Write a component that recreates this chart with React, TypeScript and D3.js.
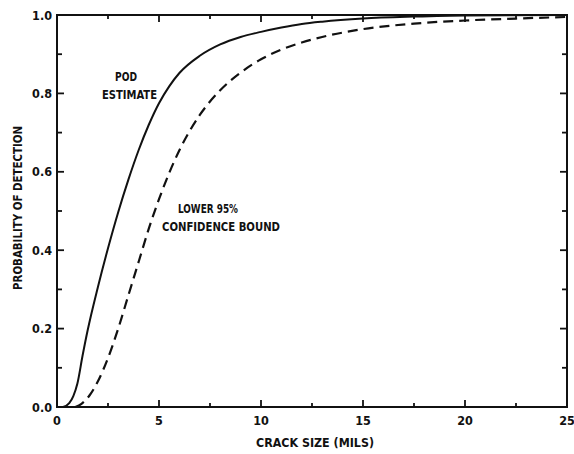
import React, { useEffect, useRef } from 'react';
import * as d3 from 'd3';

// POD estimate (solid curve): crack size in mils vs probability
const podSize = [0.3, 0.6, 0.8, 1.0, 1.25, 1.5, 2.0, 2.5, 3.0, 3.5, 4.0, 4.5, 5.0, 5.5, 6.0, 7.0, 8.0, 9.0, 10, 11, 12, 13, 15, 17.5, 20, 25];
const podProb = [0, 0.01, 0.028, 0.06, 0.13, 0.195, 0.305, 0.405, 0.497, 0.58, 0.655, 0.72, 0.775, 0.818, 0.852, 0.896, 0.925, 0.944, 0.957, 0.968, 0.977, 0.983, 0.991, 0.996, 0.999, 1.0];

// Lower 95% confidence bound (dashed curve)
const lbSize = [0.9, 1.2, 1.6, 2.0, 2.5, 3.0, 3.5, 4.0, 4.5, 5.0, 5.5, 6.0, 7.0, 8.0, 9.0, 10, 11, 12, 13, 15, 17.5, 20, 22.5, 25];
const lbProb = [0, 0.008, 0.03, 0.065, 0.125, 0.2, 0.285, 0.37, 0.455, 0.53, 0.597, 0.655, 0.745, 0.808, 0.853, 0.887, 0.912, 0.93, 0.944, 0.964, 0.978, 0.986, 0.991, 0.995];

const xTicks = [0, 5, 10, 15, 20, 25];
const xMinor = [2.5, 7.5, 12.5, 17.5, 22.5];
const yTicks = [0, 0.2, 0.4, 0.6, 0.8, 1.0];
const yMinor = [0.1, 0.3, 0.5, 0.7, 0.9];

export default function App() {
  const svgRef = useRef<SVGSVGElement>(null);

  useEffect(() => {
    if (!svgRef.current) return;
    const width = 574;
    const height = 454;
    const margin = { top: 15, right: 7, bottom: 47, left: 57 };
    const font = '"DejaVu Sans Condensed", "DejaVu Sans", sans-serif';

    const svg = d3.select(svgRef.current);
    svg.selectAll('*').remove();
    svg.attr('width', width).attr('height', height).style('background', '#fff');

    const x = d3.scaleLinear().domain([0, 25]).range([margin.left, width - margin.right]);
    const y = d3.scaleLinear().domain([0, 1]).range([height - margin.bottom, margin.top]);

    const ink = '#111';

    // frame
    svg.append('rect')
      .attr('x', x(0)).attr('y', y(1))
      .attr('width', x(25) - x(0)).attr('height', y(0) - y(1))
      .attr('fill', 'none').attr('stroke', ink).attr('stroke-width', 2);

    // x ticks (inward, bottom and top)
    const xt = (vals: number[], len: number) => {
      vals.forEach(v => {
        svg.append('line').attr('x1', x(v)).attr('x2', x(v)).attr('y1', y(0)).attr('y2', y(0) - len)
          .attr('stroke', ink).attr('stroke-width', 1.8);
        svg.append('line').attr('x1', x(v)).attr('x2', x(v)).attr('y1', y(1)).attr('y2', y(1) + len)
          .attr('stroke', ink).attr('stroke-width', 1.8);
      });
    };
    xt(xTicks.slice(1, -1), 7);
    xt(xMinor, 4);

    // y ticks (inward, left and right)
    const yt = (vals: number[], len: number) => {
      vals.forEach(v => {
        svg.append('line').attr('x1', x(0)).attr('x2', x(0) + len).attr('y1', y(v)).attr('y2', y(v))
          .attr('stroke', ink).attr('stroke-width', 1.8);
        svg.append('line').attr('x1', x(25)).attr('x2', x(25) - len).attr('y1', y(v)).attr('y2', y(v))
          .attr('stroke', ink).attr('stroke-width', 1.8);
      });
    };
    yt(yTicks.slice(1, -1), 7);
    yt(yMinor, 5);

    // tick labels
    xTicks.forEach(v => {
      svg.append('text')
        .attr('x', x(v)).attr('y', 425)
        .attr('text-anchor', 'middle')
        .attr('font-family', font).attr('font-weight', 'bold').attr('font-size', 12.5)
        .attr('fill', ink)
        .text(d3.format('d')(v));
    });
    yTicks.forEach(v => {
      svg.append('text')
        .attr('x', 52).attr('y', y(v) + 4.5)
        .attr('text-anchor', 'end')
        .attr('font-family', font).attr('font-weight', 'bold').attr('font-size', 12.5)
        .attr('fill', ink)
        .text(d3.format('.1f')(v));
    });

    // axis titles
    svg.append('text')
      .attr('x', 315).attr('y', 447)
      .attr('text-anchor', 'middle')
      .attr('font-family', font).attr('font-weight', 'bold').attr('font-size', 12)
      .attr('fill', ink)
      .attr('textLength', 118).attr('lengthAdjust', 'spacingAndGlyphs')
      .text('CRACK SIZE (MILS)');
    svg.append('text')
      .attr('transform', `translate(22,${208}) rotate(-90)`)
      .attr('text-anchor', 'middle')
      .attr('font-family', font).attr('font-weight', 'bold').attr('font-size', 12)
      .attr('fill', ink)
      .attr('textLength', 164).attr('lengthAdjust', 'spacingAndGlyphs')
      .text('PROBABILITY OF DETECTION');

    // curves
    const line = d3.line<[number, number]>()
      .x(d => x(d[0]))
      .y(d => y(d[1]))
      .curve(d3.curveMonotoneX);

    const pod = podSize.map((s, i) => [s, podProb[i]] as [number, number]);
    const lb = lbSize.map((s, i) => [s, lbProb[i]] as [number, number]);

    svg.append('path')
      .attr('d', line(pod))
      .attr('fill', 'none').attr('stroke', ink).attr('stroke-width', 2);
    svg.append('path')
      .attr('d', line(lb))
      .attr('fill', 'none').attr('stroke', ink).attr('stroke-width', 2.2)
      .attr('stroke-dasharray', '10,6');

    // annotations
    const note = (tx: number, ty: number, s: string, len: number) => {
      svg.append('text')
        .attr('x', tx).attr('y', ty)
        .attr('font-family', font).attr('font-weight', 'bold').attr('font-size', 12)
        .attr('fill', ink)
        .attr('textLength', len).attr('lengthAdjust', 'spacingAndGlyphs')
        .text(s);
    };
    note(115, 81, 'POD', 22);
    note(102, 99, 'ESTIMATE', 55);
    note(178, 213, 'LOWER 95%', 60);
    note(162, 231, 'CONFIDENCE BOUND', 118);
  }, []);

  return (
    <div style={{ position: 'absolute', left: 0, top: 0 }}>
      <svg ref={svgRef} style={{ display: 'block' }}></svg>
    </div>
  );
}
